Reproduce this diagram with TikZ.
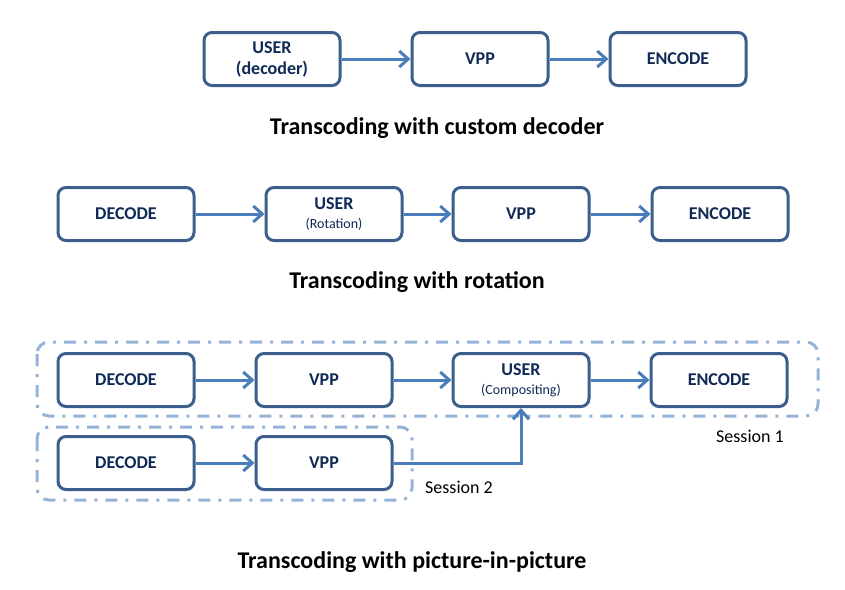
\documentclass[tikz,border=0pt]{standalone}
\usepackage{fontspec}
\setmainfont{Carlito}
\usetikzlibrary{arrows.meta}
\definecolor{boxline}{HTML}{3B5E8C}
\definecolor{arrowc}{HTML}{4A7EBB}
\definecolor{sessc}{HTML}{95B3D7}
\definecolor{txtc}{HTML}{102A55}
\newcommand\subfnt{\mdseries\fontsize{14}{16}\selectfont}
\tikzset{
  stage/.style={draw=boxline, line width=3pt, rounded corners=8pt, fill=white,
    minimum width=136pt, minimum height=53pt, inner sep=0pt, align=center,
    text=txtc, font=\fontsize{18}{20}\selectfont\bfseries},
  flow/.style={draw=arrowc, line width=3pt, -{Straight Barb[length=9pt,width=16pt,line width=3pt]}},
  session/.style={draw=sessc, line width=3pt, rounded corners=12pt,
    dash pattern=on 12pt off 8pt on 3pt off 8pt},
  caption/.style={font=\fontsize{24}{28}\selectfont\bfseries, text=black},
  slabel/.style={font=\fontsize{18}{20}\selectfont, text=black}
}
\begin{document}
\begin{tikzpicture}[x=1pt,y=-1pt]
\useasboundingbox (0,0) rectangle (845,589);
% Row 1
\node[stage] (u1) at (272,59) {USER\\[1pt](decoder)};
\node[stage] (v1) at (480,59) {VPP};
\node[stage] (e1) at (678,59) {ENCODE};
\draw[flow] (u1) -- (v1);
\draw[flow] (v1) -- (e1);
\node[caption] (t1) at (437,128) {Transcoding with custom decoder};
% Row 2
\node[stage] (d2) at (126,214) {DECODE};
\node[stage] (u2) at (334,214) {USER\\[-1pt]{\subfnt (Rotation)}};
\node[stage] (v2) at (521,214) {VPP};
\node[stage] (e2) at (720,214) {ENCODE};
\draw[flow] (d2) -- (u2);
\draw[flow] (u2) -- (v2);
\draw[flow] (v2) -- (e2);
\node[caption] (t2) at (417,282) {Transcoding with rotation};
% Row 3 sessions
\draw[session] (37,342) rectangle (818,416);
\draw[session] (37,427) rectangle (412,500);
\node[slabel] (s1) at (750,436) {Session 1};
\node[slabel] (s2) at (459,487) {Session 2};
\node[stage] (d3) at (126,380) {DECODE};
\node[stage] (v3) at (324,380) {VPP};
\node[stage] (u3) at (521,380) {USER\\[-1pt]{\subfnt (Compositing)}};
\node[stage] (e3) at (719,380) {ENCODE};
\draw[flow] (d3) -- (v3);
\draw[flow] (v3) -- (u3);
\draw[flow] (u3) -- (e3);
\node[stage] (d4) at (126,463) {DECODE};
\node[stage] (v4) at (324,463) {VPP};
\draw[flow] (d4) -- (v4);
\draw[flow] (v4.east) -| (u3.south);
\node[caption] (t3) at (412,562) {Transcoding with picture-in-picture};
\end{tikzpicture}
\end{document}
